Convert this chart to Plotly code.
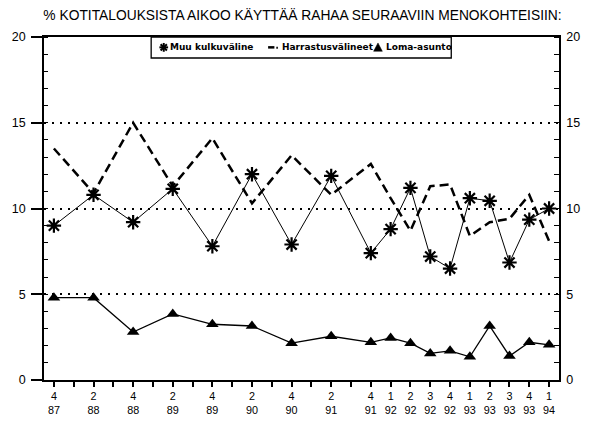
import plotly.graph_objects as go

# ---------------- data ----------------
quarters = ["4/87", "2/88", "4/88", "2/89", "4/89", "2/90", "4/90", "2/91",
            "4/91", "1/92", "2/92", "3/92", "4/92", "1/93", "2/93", "3/93",
            "4/93", "1/94"]
muu = [9.0, 10.8, 9.2, 11.15, 7.8, 12.0, 7.9, 11.9,
       7.4, 8.8, 11.2, 7.2, 6.5, 10.6, 10.45, 6.85, 9.35, 10.0]
harrastus = [13.5, 10.9, 15.0, 11.3, 14.1, 10.3, 13.1, 10.8,
             12.6, 10.6, 8.7, 11.3, 11.4, 8.4, 9.2, 9.4, 10.8, 8.1]
loma = [4.8, 4.8, 2.8, 3.85, 3.25, 3.15, 2.15, 2.55,
        2.2, 2.45, 2.15, 1.55, 1.7, 1.35, 3.15, 1.4, 2.2, 2.05]
series_names = ["Muu kulkuväline", "Harrastusvälineet", "Loma-asunto"]
title_text = "% KOTITALOUKSISTA AIKOO KÄYTTÄÄ RAHAA SEURAAVIIN MENOKOHTEISIIN:"
y_tickvals = [0, 5, 10, 15, 20]


def q_index(lbl):
    q, y = lbl.split("/")
    return (int(y) - 87) * 4 + int(q) - 4


x = [q_index(l) for l in quarters]
n_slots = max(x) + 1
tick_text = [""] * n_slots
for xi, l in zip(x, quarters):
    q, yy = l.split("/")
    tick_text[xi] = f"{q}<br>{yy}"

# ---------------- geometry ----------------
FIG_W, FIG_H = 592, 428
L, R, T, B = 41, 573, 37, 388
PW, PH = R - L, B - T


def px(v):
    return (v - L) / PW


def py(v):
    return (B - v) / PH


BLACK = "#000000"
FONT = "Liberation Sans, Arial, Helvetica, sans-serif"

fig = go.Figure()

fig.add_trace(go.Scatter(
    x=x, y=muu, name=series_names[0], mode="lines+markers",
    line=dict(color=BLACK, width=1),
    marker=dict(symbol="asterisk-open", size=12, color=BLACK,
                line=dict(color=BLACK, width=2.2)),
    showlegend=False))

fig.add_trace(go.Scatter(
    x=x, y=harrastus, name=series_names[1], mode="lines",
    line=dict(color=BLACK, width=2.5, dash="9px,5px"),
    showlegend=False))

fig.add_trace(go.Scatter(
    x=x, y=loma, name=series_names[2], mode="lines+markers",
    line=dict(color=BLACK, width=1.3),
    marker=dict(symbol="triangle-up", size=11, color=BLACK),
    yaxis="y2", showlegend=False))

# ---------------- manual legend ----------------
shapes = []
shapes.append(dict(type="rect", xref="paper", yref="paper",
                   x0=px(151.7), x1=px(461.7), y0=py(58.5), y1=py(T),
                   line=dict(color=BLACK, width=1.3), fillcolor="white",
                   layer="above"))
cy = 47.6
# asterisk symbol
cx, r = 164.7, 4.5
d = r * 0.72
for (ax0, ay0, ax1, ay1) in [(cx - r, cy, cx + r, cy), (cx, cy - r, cx, cy + r),
                             (cx - d, cy - d, cx + d, cy + d),
                             (cx - d, cy + d, cx + d, cy - d)]:
    shapes.append(dict(type="line", xref="paper", yref="paper",
                       x0=px(ax0), y0=py(ay0), x1=px(ax1), y1=py(ay1),
                       line=dict(color=BLACK, width=2), layer="above"))
# dash symbol
shapes.append(dict(type="line", xref="paper", yref="paper",
                   x0=px(272.5), y0=py(cy), x1=px(279.0), y1=py(cy),
                   line=dict(color=BLACK, width=2.5), layer="above"))
shapes.append(dict(type="line", xref="paper", yref="paper",
                   x0=px(281.0), y0=py(cy + 0.5), x1=px(282.6), y1=py(cy + 0.5),
                   line=dict(color=BLACK, width=2), layer="above"))
# triangle symbol
shapes.append(dict(type="path", xref="paper", yref="paper",
                   path=(f"M {px(381.5)},{py(cy + 4)} L {px(390.5)},{py(cy + 4)} "
                         f"L {px(386)},{py(cy - 4.5)} Z"),
                   fillcolor=BLACK, line=dict(color=BLACK, width=0.5),
                   layer="above"))

annotations = []
for name, left in zip(series_names, [169.5, 284.5, 392.0]):
    annotations.append(dict(text=name, xref="paper", yref="paper",
                            x=px(left), y=py(cy), xanchor="left", yanchor="middle",
                            showarrow=False,
                            font=dict(family="DejaVu Sans, sans-serif", size=9,
                                      color=BLACK, weight="bold")))

# ---------------- layout ----------------
fig.update_layout(
    width=FIG_W, height=FIG_H,
    margin=dict(l=L, r=FIG_W - R, t=T, b=FIG_H - B, pad=0),
    paper_bgcolor="white", plot_bgcolor="white",
    font=dict(family=FONT, color=BLACK),
    title=dict(text=title_text, xref="container", yref="container",
               x=302.5 / FIG_W, xanchor="center",
               y=1 - 15.5 / FIG_H, yanchor="middle",
               font=dict(family=FONT, size=13.8, color=BLACK)),
    xaxis=dict(range=[-0.5, n_slots - 0.5], tickmode="array",
               tickvals=list(range(n_slots)), ticktext=tick_text,
               ticks="outside", ticklen=5, tickwidth=1.5, tickcolor=BLACK,
               showline=True, linecolor=BLACK, linewidth=1.5, mirror=True,
               showgrid=False, zeroline=False,
               tickfont=dict(family=FONT, size=10.8, color=BLACK)),
    yaxis=dict(range=[0, 20], tickmode="array", tickvals=y_tickvals,
               ticks="outside", ticklen=11, tickwidth=1.5, tickcolor=BLACK,
               showline=True, linecolor=BLACK, linewidth=1.5,
               showgrid=True, gridcolor=BLACK, gridwidth=1.5, griddash="2px,6px",
               zeroline=False, ticklabelstandoff=3,
               minor=dict(dtick=1, ticks="inside", ticklen=4.5, tickwidth=1.2,
                          tickcolor=BLACK, showgrid=False),
               tickfont=dict(family=FONT, size=12.5, color=BLACK)),
    yaxis2=dict(range=[0, 20], overlaying="y", side="right", tickmode="array",
                tickvals=y_tickvals, ticks="", showline=True, linecolor=BLACK,
                linewidth=1.5, showgrid=False, zeroline=False,
                ticklabelstandoff=3,
                minor=dict(dtick=1, ticks="inside", ticklen=5.5, tickwidth=1.2,
                           tickcolor=BLACK, showgrid=False),
                tickfont=dict(family=FONT, size=12.5, color=BLACK)),
    shapes=shapes, annotations=annotations,
)

fig.write_html(
    "out.html",
    config={"displayModeBar": False},
    post_script="document.body.style.margin='0';document.body.style.overflow='hidden';",
)
